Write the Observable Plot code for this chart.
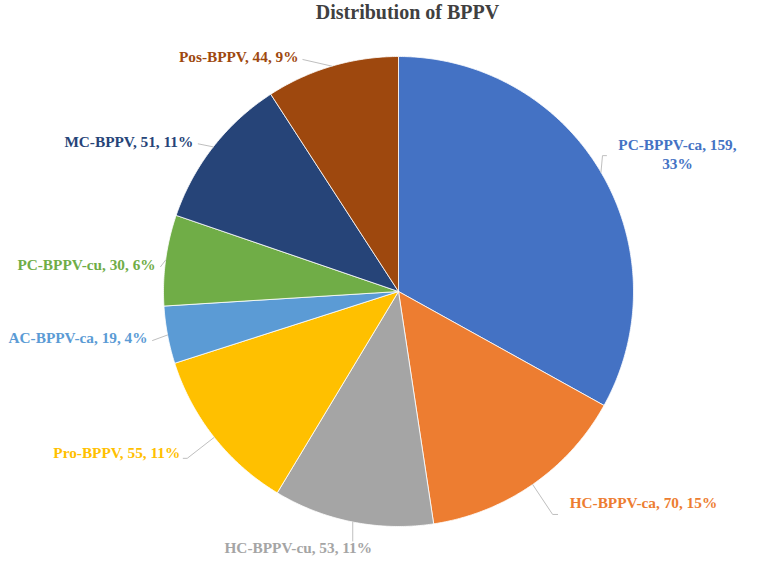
<!DOCTYPE html>
<html><head><meta charset="utf-8">
<script src="https://cdn.jsdelivr.net/npm/d3@7"></script>
<script src="https://cdn.jsdelivr.net/npm/@observablehq/plot@0.6"></script>
<style>body{margin:0;background:#fff}#chart svg{display:block}</style>
</head><body><div id="chart"></div>
<script>
// ---- data ----
const title = "Distribution of BPPV";
const categories = ["PC-BPPV-ca","HC-BPPV-ca","HC-BPPV-cu","Pro-BPPV","AC-BPPV-ca","PC-BPPV-cu","MC-BPPV","Pos-BPPV"];
const counts = [159, 70, 53, 55, 19, 30, 51, 44];
const percents = [33, 15, 11, 11, 4, 6, 11, 9];
const colors = ["#4472C4","#ED7D31","#A5A5A5","#FFC000","#5B9BD5","#70AD47","#264478","#9E480E"];

// ---- layout (pixels) ----
const W = 768, H = 561, R = 235, CX = 398, CY = 291;
const FONT = "'Liberation Serif','Times New Roman',serif";
// label offset from slice edge point (px, y down), text anchor, leader elbow points
const labelLayout = [
  {dx: 76.5, dy: -18.6, anchor: "middle", multi: true, leader: [[1.5,-16.6],[5.5,-16.6]]},
  {dx: 37, dy: 17.5, anchor: "start", leader: [[20,30],[25,30]]},
  {dx: -54.5, dy: 25.5, anchor: "middle", leader: [[0,19]]},
  {dx: -34, dy: 15, anchor: "end", leader: [[-27,21],[-31,21]]},
  {dx: -20, dy: 2.5, anchor: "end", leader: [[-15,5.5]]},
  {dx: -10, dy: 3.5, anchor: "end", leader: [[-5,6.5]]},
  {dx: -20, dy: -5.4, anchor: "end", leader: [[-15,-3]]},
  {dx: -33.4, dy: -10.6, anchor: "end", leader: [[-29,-6.6]]}
];

const total = d3.sum(counts);
const slicePts = [], leaderPts = [], labels = [];
let cum = 0;
categories.forEach((name, i) => {
  const a0 = cum / total * 2 * Math.PI;
  const a1 = (cum + counts[i]) / total * 2 * Math.PI;
  const m = (a0 + a1) / 2;
  slicePts.push({name, x: 0, y: 0});
  const n = Math.max(2, Math.ceil((a1 - a0) / (Math.PI / 360)));
  for (let k = 0; k <= n; k++) {
    const t = a0 + (a1 - a0) * k / n;
    slicePts.push({name, x: Math.sin(t), y: Math.cos(t)});
  }
  slicePts.push({name, x: 0, y: 0});
  const ex = Math.sin(m), ey = Math.cos(m);
  const L = labelLayout[i];
  leaderPts.push({name, x: ex, y: ey});
  L.leader.forEach(([px, py]) => leaderPts.push({name, x: ex + px / R, y: ey - py / R}));
  const text = L.multi
    ? `${name}, ${counts[i]},\n${percents[i]}%`
    : `${name}, ${counts[i]}, ${percents[i]}%`;
  labels.push({name, text, x: ex + L.dx / R, y: ey - L.dy / R, anchor: L.anchor, color: colors[i]});
  cum += counts[i];
});

const plot = Plot.plot({
  width: W, height: H,
  marginTop: 0, marginRight: 0, marginBottom: 0, marginLeft: 0,
  x: {domain: [-CX / R, (W - CX) / R], axis: null},
  y: {domain: [-(H - CY) / R, CY / R], axis: null},
  color: {type: "ordinal", domain: categories, range: colors, legend: false},
  style: {background: "#fff"},
  marks: [
    Plot.line(slicePts, {x: "x", y: "y", z: "name", fill: "name", stroke: "white", strokeWidth: 0.8, strokeLinejoin: "round"}),
    Plot.line(leaderPts, {x: "x", y: "y", z: "name", stroke: "#bfbfbf", strokeWidth: 1}),
    ...labels.map(l => Plot.text([l], {
      x: "x", y: "y", text: "text", textAnchor: l.anchor, fill: l.color,
      fontSize: 15.3, fontWeight: "bold", fontFamily: FONT, lineHeight: 1.22
    })),
    Plot.text([title], {frameAnchor: "top", dx: 23, dy: 4, fontSize: 20, fontWeight: "bold", fill: "#404040", fontFamily: FONT})
  ]
});
document.getElementById("chart").appendChild(plot);
</script>
</body></html>
